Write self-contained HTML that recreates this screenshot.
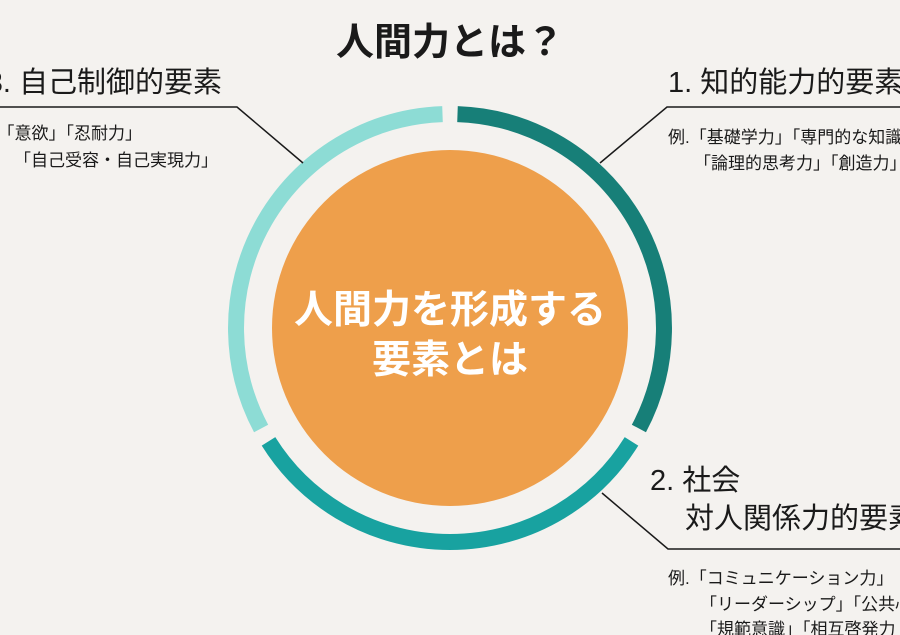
<!DOCTYPE html>
<html><head><meta charset="utf-8"><style>
html,body{margin:0;padding:0;background:#f4f2ef;}
svg{display:block;font-family:"Liberation Sans","Noto Sans CJK JP",sans-serif;}
</style></head><body>
<svg width="900" height="635" viewBox="0 0 900 635" xmlns="http://www.w3.org/2000/svg">
<rect width="900" height="635" fill="#f4f2ef"/>
<text x="450" y="55" text-anchor="middle" font-size="38" font-weight="bold" fill="#1a1a1a">人間力とは？</text>
<circle cx="450" cy="328" r="178" fill="#ee9f4b"/>
<g fill="none" stroke-width="16">
<path d="M457.5 114.1 A214 214 0 0 1 638.9 428.5" stroke="#177f78"/>
<path d="M631.5 441.4 A214 214 0 0 1 268.5 441.4" stroke="#18a2a0"/>
<path d="M261.1 428.5 A214 214 0 0 1 442.5 114.1" stroke="#8ddcd5"/>
</g>
<text x="450" y="323" text-anchor="middle" font-size="39" font-weight="bold" fill="#fff">人間力を形成する</text>
<text x="450" y="373" text-anchor="middle" font-size="39" font-weight="bold" fill="#fff">要素とは</text>
<g stroke="#1a1a1a" stroke-width="1.5" fill="none">
<polyline points="0,107 237,107 303,163"/>
<polyline points="600,163 667,107 900,107"/>
<polyline points="602,493 668,549 900,549"/>
</g>
<g fill="#1a1a1a">
<text x="222" y="92" text-anchor="end" font-size="29">3. 自己制御的要素</text>
<text x="142" y="139" text-anchor="end" font-size="17">例.「意欲」「忍耐力」</text>
<text x="14" y="166" font-size="17">「自己受容・自己実現力」</text>
<text x="668" y="92" font-size="29">1. 知的能力的要素</text>
<text x="668" y="143" font-size="17">例.「基礎学力」「専門的な知識」</text>
<text x="694" y="169" font-size="17">「論理的思考力」「創造力」</text>
<text x="650" y="490" font-size="29">2. 社会</text>
<text x="685" y="528" font-size="29">対人関係力的要素</text>
<text x="668" y="584" font-size="17">例.「コミュニケーション力」</text>
<text x="700" y="610" font-size="17">「リーダーシップ」「公共心」</text>
<text x="700" y="635" font-size="17">「規範意識」「相互啓発力」</text>
</g>
</svg>
</body></html>
